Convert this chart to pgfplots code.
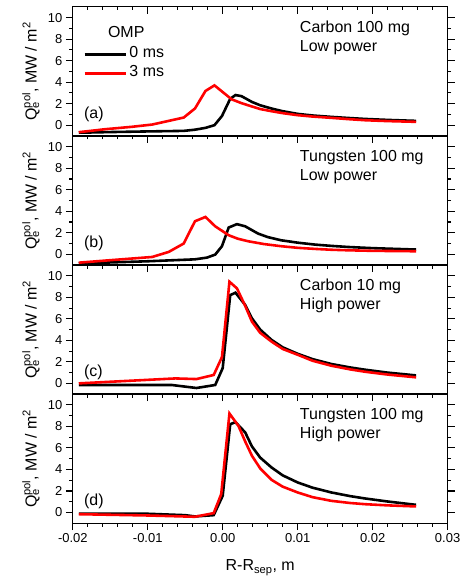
\documentclass[border=0pt]{standalone}
\usepackage{fontspec}
\setmainfont{Liberation Sans}
\usepackage{pgfplots}
\pgfplotsset{compat=1.18}
\usepgfplotslibrary{groupplots}
\newcommand\supsub[2]{\begingroup\setbox0\hbox{\textsuperscript{#1}}\setbox2\hbox{\textsubscript{#2}}\ifdim\wd0>\wd2 \rlap{\box2}\box0\else\rlap{\box0}\box2\fi\endgroup}
\newcommand\lblfont{\fontsize{16}{19}\selectfont}
\pgfplotsset{
  panel/.style={
    width=376pt, height=129.5pt, scale only axis,
    xmin=-0.02, xmax=0.03, ymin=-1, ymax=11,
    xtick={-0.02,-0.01,0,0.01,0.02,0.03}, minor x tick num=4,
    scaled x ticks=false, scaled y ticks=false,
    ytick={0,2,4,6,8,10}, minor y tick num=1,
    tick align=outside, xtick pos=left, ytick pos=both,
    major tick length=7pt, minor tick length=3.5pt,
    axis line style={line width=1.3pt},
    every tick/.style={line width=1.1pt, black},
    tick label style={font=\fontsize{13}{13}\selectfont},
    /pgf/number format/assume math mode=true,
    xticklabel style={/pgf/number format/fixed, /pgf/number format/fixed zerofill, /pgf/number format/precision=2},
    ylabel={Q\supsub{pol}{e}, MW / m\textsuperscript{2}},
    every axis y label/.style={at={(axis description cs:-0.0965,0.5)}, rotate=90, anchor=base, font=\lblfont},
    every axis x label/.style={at={(axis description cs:0.5,0)}, anchor=base, yshift=-47.7pt, font=\lblfont},
  },
  bl/.style={black, line width=2.6pt},
  rd/.style={red, line width=2.6pt},
}
\begin{document}
\begin{tikzpicture}
\begin{groupplot}[group style={group size=1 by 4, vertical sep=0pt, xticklabels at=edge bottom}, panel]
% ---------- (a)
\nextgroupplot[legend style={at={(axis cs:-0.01862,7.45)}, anchor=north west, draw=none, fill=none, font=\lblfont, row sep=0pt, column sep=0pt, inner sep=0pt,
    nodes={inner sep=1.7pt, text height=10.5pt, text depth=5.1pt}},
  legend image code/.code={\draw[#1] (0pt,0pt) -- (42pt,0pt);}]
\addplot[bl] table {
-0.0192 -0.70
-0.015 -0.64
-0.010 -0.58
-0.0052 -0.53
-0.0037 -0.42
-0.0023 -0.25
-0.0011 0.0
-0.0001 0.85
0.001 2.45
0.0017 2.8
0.0025 2.7
0.0039 2.16
0.005 1.85
0.0065 1.55
0.008 1.3
0.010 1.05
0.012 0.9
0.0145 0.77
0.017 0.66
0.019 0.58
0.022 0.49
0.0258 0.40
};
\addlegendentry{0 ms}
\addplot[rd] table {
-0.0192 -0.65
-0.0156 -0.37
-0.0121 -0.15
-0.0094 0.06
-0.0072 0.40
-0.0052 0.71
-0.0037 1.55
-0.0023 3.18
-0.0011 3.7
0.0012 2.4
0.0025 2.05
0.0038 1.76
0.005 1.5
0.0065 1.3
0.008 1.12
0.010 0.93
0.012 0.8
0.0145 0.68
0.017 0.55
0.019 0.46
0.022 0.38
0.0258 0.31
};
\addlegendentry{3 ms}
\node[anchor=base, font=\lblfont] at (axis cs:-0.01287,8.18) {OMP};
\node[anchor=base west, font=\lblfont] at (axis cs:-0.01896,0.62) {(a)};
\node[anchor=base west, font=\lblfont] at (axis cs:0.00984,8.6) {Carbon 100 mg};
\node[anchor=base west, font=\lblfont] at (axis cs:0.00984,6.85) {Low power};
% ---------- (b)
\nextgroupplot
\addplot[bl] table {
-0.0192 -0.85
-0.010 -0.65
-0.0037 -0.47
-0.0021 -0.31
-0.001 -0.03
-0.0001 0.75
0.0008 2.49
0.0019 2.8
0.003 2.6
0.0047 1.93
0.006 1.6
0.0078 1.3
0.010 1.08
0.0123 0.9
0.0145 0.78
0.0167 0.68
0.020 0.57
0.0258 0.44
};
\addplot[rd] table {
-0.0192 -0.78
-0.015 -0.55
-0.0094 -0.25
-0.0072 0.22
-0.0052 1.0
-0.0037 3.07
-0.0023 3.47
-0.001 2.6
0.0008 1.77
0.002 1.45
0.0034 1.21
0.0055 0.95
0.0078 0.75
0.010 0.6
0.0123 0.5
0.0145 0.42
0.0167 0.37
0.020 0.32
0.0258 0.28
};
\node[anchor=base west, font=\lblfont] at (axis cs:-0.01896,0.62) {(b)};
\node[anchor=base west, font=\lblfont] at (axis cs:0.00984,8.6) {Tungsten 100 mg};
\node[anchor=base west, font=\lblfont] at (axis cs:0.00984,6.85) {Low power};
% ---------- (c)
\nextgroupplot
\addplot[bl] table {
-0.0192 -0.15
-0.0068 -0.15
-0.0035 -0.43
-0.001 -0.15
0.0 1.42
0.001 8.2
0.0017 8.43
0.003 7.29
0.0039 6.05
0.005 5.0
0.0065 4.05
0.008 3.35
0.010 2.75
0.012 2.25
0.0145 1.8
0.017 1.48
0.019 1.27
0.022 1.0
0.0258 0.74
};
\addplot[rd] table {
-0.0192 0.0
-0.0063 0.46
-0.0035 0.4
-0.0012 0.78
-0.0001 2.44
0.0009 9.45
0.0019 8.83
0.003 7.2
0.0039 5.74
0.005 4.7
0.0065 3.89
0.008 3.2
0.010 2.66
0.012 2.1
0.0145 1.64
0.017 1.3
0.019 1.08
0.022 0.82
0.0258 0.56
};
\node[anchor=base west, font=\lblfont] at (axis cs:-0.01896,0.62) {(c)};
\node[anchor=base west, font=\lblfont] at (axis cs:0.00984,8.6) {Carbon 10 mg};
\node[anchor=base west, font=\lblfont] at (axis cs:0.00984,6.85) {High power};
% ---------- (d)
\nextgroupplot[xlabel={R-R\textsubscript{sep}, m}]
\addplot[bl] table {
-0.0192 -0.1
-0.010 -0.12
-0.005 -0.25
-0.0037 -0.37
-0.0012 -0.25
0.0 1.55
0.001 8.2
0.0017 8.4
0.003 7.44
0.0039 6.14
0.005 5.1
0.0065 4.19
0.008 3.45
0.010 2.79
0.012 2.3
0.0145 1.86
0.017 1.52
0.019 1.3
0.022 1.02
0.0258 0.71
};
\addplot[rd] table {
-0.0192 -0.16
-0.010 -0.28
-0.0037 -0.4
-0.0012 -0.06
-0.0002 1.7
0.0009 9.2
0.0021 8.05
0.003 6.6
0.0039 5.27
0.005 4.1
0.0065 3.04
0.008 2.4
0.010 1.86
0.012 1.42
0.0145 1.08
0.017 0.88
0.019 0.77
0.022 0.66
0.0258 0.56
};
\node[anchor=base west, font=\lblfont] at (axis cs:-0.01896,0.65) {(d)};
\node[anchor=base west, font=\lblfont] at (axis cs:0.00984,8.6) {Tungsten 100 mg};
\node[anchor=base west, font=\lblfont] at (axis cs:0.00984,6.85) {High power};
\end{groupplot}
% top inward ticks of panel (a)
\begin{axis}[at={(group c1r1.north west)}, anchor=north west,
  width=376pt, height=129.5pt, scale only axis,
  xmin=-0.02, xmax=0.03, ymin=-1, ymax=11, scaled x ticks=false,
  xtick={-0.02,-0.01,0,0.01,0.02,0.03}, minor x tick num=4,
  ytick=\empty, xticklabels={}, xtick pos=right, tick align=inside,
  major tick length=7pt, minor tick length=3.5pt,
  axis line style={line width=1.3pt},
  every tick/.style={line width=1.1pt, black}]
\end{axis}
\path (group c1r1.north west) +(-73pt,6pt);
\path (group c1r4.south east) +(18pt,-55pt);
\end{tikzpicture}
\end{document}
